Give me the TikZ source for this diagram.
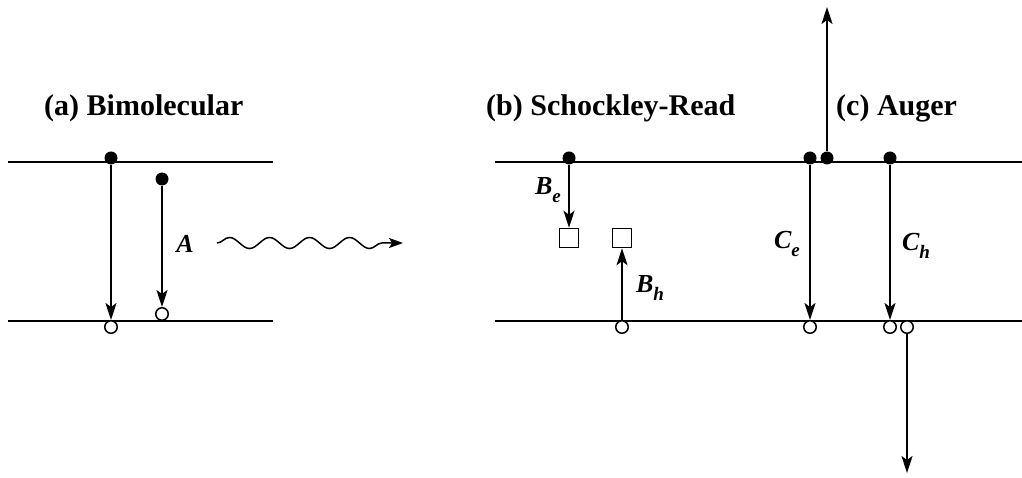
\documentclass[tikz,border=0pt]{standalone}
\usepackage{fontspec}
\setmainfont{Liberation Serif}
\usetikzlibrary{arrows.meta,decorations.pathmorphing}
\newcommand\lsub[1]{\raisebox{-0.28em}{\fontsize{19}{19}\selectfont #1}}
\begin{document}
\begin{tikzpicture}[x=1pt,y=-1pt,
 band/.style={line width=2.6pt},
 elec/.style={circle,fill=black,inner sep=0,minimum size=13pt},
 hole/.style={circle,draw,line width=1.5pt,fill=white,inner sep=0,minimum size=12.5pt},
 trap/.style={rectangle,draw,line width=1.5pt,fill=white,inner sep=0,minimum size=19pt},
 trans/.style={-{Stealth[length=17pt,width=11pt,inset=4pt]},line width=1.7pt},
 ttl/.style={font=\fontsize{30}{34}\selectfont\bfseries,inner sep=0},
 lbl/.style={font=\fontsize{26}{30}\selectfont\bfseries\itshape,inner sep=0}
]
\useasboundingbox (0,0) rectangle (1022,478);
% band edges
\coordinate (aCl) at (8,162); \coordinate (aCr) at (273,162);
\coordinate (aVl) at (8,321); \coordinate (aVr) at (273,321);
\coordinate (bCl) at (495,162); \coordinate (bCr) at (1022,162);
\coordinate (bVl) at (495,321); \coordinate (bVr) at (1022,321);
\draw[band] (aCl) -- (aCr);
\draw[band] (aVl) -- (aVr);
\draw[band] (bCl) -- (bCr);
\draw[band] (bVl) -- (bVr);
% titles
\node[ttl,anchor=west] (ta) at (44,108) {(a) Bimolecular};
\node[ttl,anchor=west] (tb) at (486,108) {(b) Schockley-Read};
\node[ttl,anchor=west] (tc) at (836,108) {(c) Auger};
% (a)
\node[elec] (ae1) at (111,158) {};
\node[hole] (ah1) at (111,327) {};
\node[elec] (ae2) at (162,179) {};
\node[hole] (ah2) at (162,314) {};
\draw[trans] (ae1) -- (ah1);
\draw[trans] (ae2) -- (ah2);
\node[lbl] (lA) at (185,244) {A};
\coordinate (w0) at (217,243); \coordinate (w1) at (403,243);
\draw[line width=1.5pt,decorate,decoration={snake,segment length=40pt,amplitude=5.5pt,post length=12pt},-{Stealth[length=14pt,width=10pt,inset=3pt]}] (w0) -- (w1);
% (b)
\node[elec] (be1) at (569,158) {};
\node[trap] (bt1) at (569,238) {};
\node[trap] (bt2) at (622,238) {};
\node[hole] (bh1) at (622,327) {};
\draw[trans] (be1) -- (bt1);
\draw[trans] (bh1) -- (bt2);
\node[lbl] (lBe) at (548,190) {B\lsub{e}};
\node[lbl] (lBh) at (650,288) {B\lsub{h}};
% (c)
\node[elec] (ce1) at (810,158) {};
\node[elec] (ce2) at (827,158) {};
\node[elec] (ce3) at (890,158) {};
\node[hole] (ch1) at (810,327) {};
\node[hole] (ch2) at (890,327) {};
\node[hole] (ch3) at (907,327) {};
\coordinate (cup) at (827,7);
\coordinate (cdn) at (907,473);
\draw[trans] (ce2) -- (cup);
\draw[trans] (ce1) -- (ch1);
\draw[trans] (ce3) -- (ch2);
\draw[trans] (ch3) -- (cdn);
\node[lbl] (lCe) at (787,244) {C\lsub{e}};
\node[lbl] (lCh) at (916,246) {C\lsub{h}};
\end{tikzpicture}
\end{document}
